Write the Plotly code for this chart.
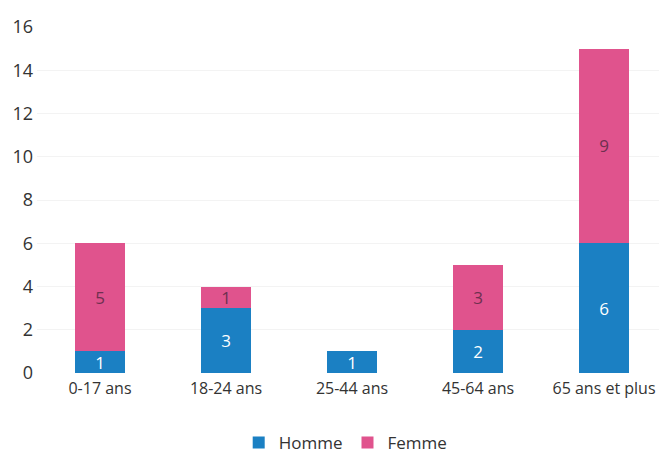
import plotly.graph_objects as go

categories = ["0-17 ans", "18-24 ans", "25-44 ans", "45-64 ans", "65 ans et plus"]
homme = [1, 3, 1, 2, 6]
femme = [5, 1, 0, 3, 9]
y_ticks = [0, 2, 4, 6, 8, 10, 12, 14, 16]

blue = "#1b80c3"
pink = "#e0538d"

fig = go.Figure()
fig.add_trace(go.Bar(
    x=categories, y=homme, name="Homme", marker_color=blue,
    text=[str(v) for v in homme], textposition="inside", insidetextanchor="middle",
    textangle=0, constraintext="none",
    textfont=dict(color="white", size=17), marker_line_width=0,
))
fig.add_trace(go.Bar(
    x=categories, y=femme, name="Femme", marker_color=pink,
    text=[str(v) if v else "" for v in femme], textposition="inside", insidetextanchor="middle",
    textangle=0, constraintext="none",
    textfont=dict(color="#6e3050", size=17), marker_line_width=0,
))
fig.update_layout(
    barmode="stack", bargap=0.6,
    width=659, height=446,
    margin=dict(l=29, r=0, t=19, b=81, autoexpand=False),
    paper_bgcolor="white", plot_bgcolor="white",
    font=dict(family="Open Sans, Liberation Sans, sans-serif", size=17, color="#333333"),
    uniformtext=dict(minsize=12, mode="show"),
    legend=dict(orientation="h", x=0.49, xanchor="center", y=-0.15, yanchor="top",
                font=dict(size=17), itemwidth=30, traceorder="normal"),
    showlegend=True,
)
fig.update_yaxes(range=[0, 16], tickvals=y_ticks, showgrid=True, gridcolor="#f3f3f3",
                 zeroline=False, showline=False, ticks="", tickfont=dict(size=18),
                 automargin=False, ticklabelstandoff=3)
fig.update_xaxes(showline=False, ticks="", tickfont=dict(size=16), automargin=False,
                 ticklabelstandoff=4)
fig.write_html("out.html")
